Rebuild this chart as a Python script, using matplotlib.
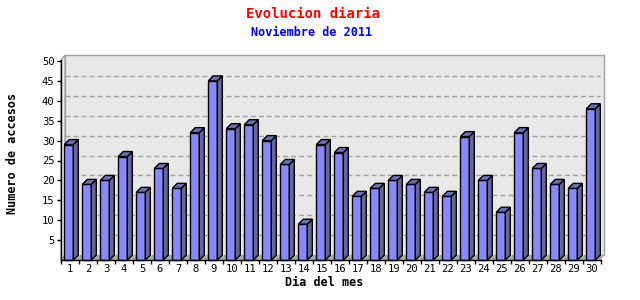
import matplotlib
matplotlib.use("Agg")
import matplotlib.pyplot as plt
from matplotlib.patches import Polygon

plt.rcParams['lines.scale_dashes'] = False

days = [str(d) for d in range(1, 31)]
accesos = [29, 19, 20, 26, 17, 23, 18, 32, 45, 33, 34, 30, 24, 9, 29,
           27, 16, 18, 20, 19, 17, 16, 31, 20, 12, 32, 23, 19, 18, 38]
yticks = [5, 10, 15, 20, 25, 30, 35, 40, 45, 50]

title = "Evolucion diaria"
subtitle = "Noviembre de 2011"
xlabel = "Dia del mes"
ylabel = "Numero de accesos"

W, H = 640, 300
fig = plt.figure(figsize=(W / 100, H / 100), dpi=100)
ax_l, ax_r, ax_b, ax_t = 61, 601, 260, 61
ax = fig.add_axes([ax_l / W, (H - ax_b) / H, (ax_r - ax_l) / W, (ax_b - ax_t) / H])
n = len(accesos)
ax.set_xlim(0.5, n + 0.5)
ax.set_ylim(0, 50)
ax.patch.set_visible(False)

pxx = n / (ax_r - ax_l)          # data units per pixel (x)
pxy = 50 / (ax_b - ax_t)         # data units per pixel (y)

# back wall
wdx, wdy = 4 * pxx, 5 * pxy
ytop = (ax_b - 55) * pxy
xright = 0.5 + (604 - ax_l) * pxx
wall = Polygon([(0.5 + wdx, wdy), (xright, wdy), (xright, ytop), (0.5 + wdx, ytop)],
               closed=True, facecolor='#e8e8e8', edgecolor='#a0a0a0', lw=1,
               clip_on=False, zorder=1)
ax.add_patch(wall)
# left wall
lwall = Polygon([(0.5, 0), (0.5 + wdx, wdy), (0.5 + wdx, ytop), (0.5, ytop - wdy)],
                closed=True, facecolor='#eeeeee', edgecolor='#a0a0a0', lw=1,
                clip_on=False, zorder=1)
ax.add_patch(lwall)
# gridlines
for v in yticks[:-1]:
    ax.plot([0.5 + wdx, xright - 0.2], [v + wdy, v + wdy], color='#a0a0a0',
            lw=1, linestyle=(0, (3.6, 2.2)), clip_on=False, zorder=2)
# floor
floor = Polygon([(0.5, 0), (n + 0.5, 0), (xright, wdy), (0.5 + wdx, wdy)],
                closed=True, facecolor='#a8a8a8', edgecolor='none',
                clip_on=False, zorder=2)
ax.add_patch(floor)

# bars
bw = 9 * pxx
bdx, bdy = 5 * pxx, 5 * pxy
off = 5.7 * pxx
for i, v in enumerate(accesos):
    x0 = (i + 1) - off
    x1 = x0 + bw
    front = Polygon([(x0, 0), (x1, 0), (x1, v), (x0, v)], closed=True,
                    facecolor='#8888ff', edgecolor='black', lw=1, zorder=3,
                    clip_on=False)
    side = Polygon([(x1, 0), (x1 + bdx, bdy), (x1 + bdx, v + bdy), (x1, v)], closed=True,
                   facecolor='#66669c', edgecolor='black', lw=1, zorder=3,
                   clip_on=False)
    top = Polygon([(x0, v), (x1, v), (x1 + bdx, v + bdy), (x0 + bdx, v + bdy)], closed=True,
                  facecolor='#6e6eb4', edgecolor='black', lw=1, zorder=3,
                  clip_on=False)
    ax.add_patch(front)
    ax.add_patch(side)
    ax.add_patch(top)

# axes spines / ticks
for s in ['top', 'right', 'left']:
    ax.spines[s].set_visible(False)
ax.plot([0.5, 0.5], [0, ytop - wdy], color='black', lw=1, clip_on=False, zorder=4)
ax.spines['bottom'].set_color('black')
ax.spines['bottom'].set_linewidth(1)
ax.spines['bottom'].set_zorder(5)

mono = 'DejaVu Sans Mono'
ax.set_yticks(yticks)
ax.set_yticklabels([str(t) for t in yticks], fontfamily=mono, fontsize=7.6)
ax.tick_params(axis='y', direction='out', length=3, width=1, color='black', pad=1.5)
ax.set_xticks(range(1, n + 1))
ax.set_xticklabels(days, fontfamily=mono, fontsize=7.6)
ax.set_xticks([k + 0.5 for k in range(0, n + 1)], minor=True)
ax.tick_params(axis='x', which='major', length=0, pad=3)
ax.tick_params(axis='x', which='minor', direction='out', length=3, width=1, color='black')

fig.text(313 / W, 1 - 14 / H, title, color='red', fontfamily=mono, fontsize=10,
         fontweight='bold', ha='center', va='center')
fig.text(312 / W, 1 - 32 / H, subtitle, color='#0000ff', fontfamily=mono, fontsize=8.5,
         fontweight='bold', ha='center', va='center')
fig.text(324 / W, 1 - 282 / H, xlabel, color='black', fontfamily=mono, fontsize=8.5,
         fontweight='bold', ha='center', va='center')
fig.text(13 / W, 1 - 153 / H, ylabel, color='black', fontfamily=mono, fontsize=8.5,
         fontweight='bold', ha='center', va='center', rotation=90)

fig.savefig('out.png', dpi=100)
